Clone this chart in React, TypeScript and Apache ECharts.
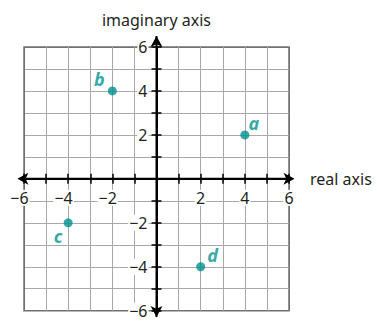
import React, { useEffect, useRef } from 'react';
import * as echarts from 'echarts';

// ---- data ----
const pointNames = ['a', 'b', 'c', 'd'];
const realParts = [4, -2, -4, 2];
const imaginaryParts = [2, 4, -2, -4];

const axisMin = -6;
const axisMax = 6;
const tickStep = 1;
const labelStep = 2;
const xAxisTitle = 'real axis';
const yAxisTitle = 'imaginary axis';

// arrow-head centres (axis units) for the extended axis lines
const xArrowEnds = [-6.3, 6.25];
const yArrowEnds = [-6.29, 6.5];

// ---- layout / style ----
const W = 377;
const H = 325;
const G = { left: 24, right: 88, top: 47, bottom: 14.3 };
const plotW = W - G.left - G.right;
const plotH = H - G.top - G.bottom;
// shift axes from the grid edge to the zero line
const xAxisShift = -plotH * (0 - axisMin) / (axisMax - axisMin);
const yAxisShift = -plotW * (0 - axisMin) / (axisMax - axisMin);

const labelOffsets = [
  [9, -12],
  [-13, -12],
  [-10, 13],
  [12, -12],
];
const TEAL = '#00918f';
const INK = '#231f20';
const FONT = '"Noto Sans", sans-serif';
const GRID = '#a8a8a8';
const BORDER = '#707070';

const MINUS = '\u2212';
const txt = (v: number) => (v < 0 ? MINUS + Math.abs(v) : String(v));
const isLabel = (v: number) => v !== 0 && Math.abs(v % labelStep) < 1e-9;

const nTicks = Math.round((axisMax - axisMin) / tickStep) + 1;
const splitColors = Array.from({ length: nTicks }, (_, i) =>
  i === 0 || i === nTicks - 1 ? BORDER : GRID
);

const richBase = { fontSize: 16, fontFamily: FONT, color: INK, lineHeight: 18 };
const rich = {
  b: { ...richBase, backgroundColor: '#fff', padding: [0, 1] },
  g: { ...richBase, color: 'transparent' },
};

export default function App() {
  const ref = useRef<HTMLDivElement>(null);
  useEffect(() => {
    if (!ref.current) return;
    const chart = echarts.init(ref.current, null, { renderer: 'svg' });
    const axisLine = { show: true, onZero: false, lineStyle: { color: '#000', width: 2 } };
    const tick = (inside: boolean) => ({
      show: true,
      inside,
      length: 5,
      lineStyle: { color: '#000', width: 1.5 },
    });
    const common = { type: 'value', min: axisMin, max: axisMax, interval: tickStep };
    chart.setOption({
      animation: false,
      grid: {
        ...G,
        outerBoundsMode: 'none',
        containLabel: false,
        show: true,
        borderColor: BORDER,
        borderWidth: 1.5,
        backgroundColor: 'transparent',
      },
      xAxis: [
        {
          ...common,
          position: 'bottom',
          offset: xAxisShift,
          axisLine,
          axisTick: tick(false),
          splitLine: { show: true, lineStyle: { color: splitColors, width: 1 } },
          axisLabel: {
            margin: 10,
            rich,
            formatter: (v: number) =>
              isLabel(v) ? (v < 0 ? `{b|${txt(v)}}{g|${MINUS}}` : `{b|${txt(v)}}`) : '',
          },
          name: xAxisTitle,
          nameLocation: 'end',
          nameGap: 21,
          nameTextStyle: { fontSize: 16, fontFamily: FONT, color: INK, verticalAlign: 'middle' },
        },
        {
          ...common,
          position: 'bottom',
          offset: xAxisShift,
          axisLine: { show: false },
          axisTick: tick(true),
          splitLine: { show: false },
          axisLabel: { show: false },
        },
      ],
      yAxis: [
        {
          ...common,
          position: 'left',
          offset: yAxisShift,
          axisLine,
          axisTick: tick(false),
          splitLine: { show: true, lineStyle: { color: splitColors, width: 1 } },
          axisLabel: {
            margin: 8,
            rich,
            align: 'right',
            formatter: (v: number) => (isLabel(v) ? `{b|${txt(v)}}` : ''),
          },
          name: yAxisTitle,
          nameLocation: 'end',
          nameGap: 19,
          nameTextStyle: { fontSize: 16, fontFamily: FONT, color: INK },
        },
        {
          ...common,
          position: 'left',
          offset: yAxisShift,
          axisLine: { show: false },
          axisTick: tick(true),
          splitLine: { show: false },
          axisLabel: { show: false },
        },
      ],
      series: [
        {
          type: 'line',
          clip: false,
          silent: true,
          z: 3,
          symbolSize: [9, 11],
          showAllSymbol: true,
          lineStyle: { color: '#000', width: 2 },
          itemStyle: { color: '#000' },
          data: [
            { value: [xArrowEnds[0], 0], symbol: 'arrow', symbolRotate: 90 },
            { value: [xArrowEnds[1], 0], symbol: 'arrow', symbolRotate: -90 },
          ],
        },
        {
          type: 'line',
          clip: false,
          silent: true,
          z: 3,
          symbolSize: [9, 11],
          showAllSymbol: true,
          lineStyle: { color: '#000', width: 2 },
          itemStyle: { color: '#000' },
          data: [
            { value: [0, yArrowEnds[0]], symbol: 'arrow', symbolRotate: 180 },
            { value: [0, yArrowEnds[1]], symbol: 'arrow', symbolRotate: 0 },
          ],
        },
        {
          type: 'scatter',
          z: 5,
          symbolSize: 9,
          itemStyle: { color: TEAL },
          data: pointNames.map((n, i) => ({
            name: n,
            value: [realParts[i], imaginaryParts[i]],
            label: {
              show: true,
              position: 'inside',
              offset: labelOffsets[i],
              formatter: n,
              color: TEAL,
              fontSize: 18,
              fontStyle: 'italic',
              fontWeight: 'bold',
              fontFamily: FONT,
            },
          })),
        },
      ],
    });
    return () => chart.dispose();
  }, []);
  return (
    <div
      ref={ref}
      style={{ position: 'fixed', left: 0, top: 0, width: W, height: H, background: '#fff' }}
    />
  );
}
